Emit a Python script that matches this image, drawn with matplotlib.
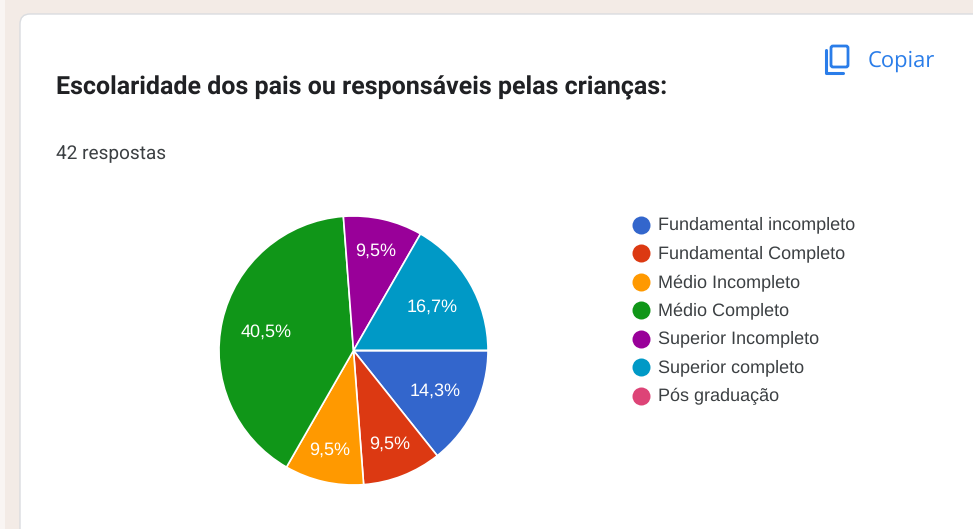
import matplotlib
matplotlib.use("Agg")
import matplotlib.pyplot as plt
from matplotlib.patches import FancyBboxPatch, Rectangle

W, H = 973, 529
plt.rcParams['font.family'] = ['Roboto', 'DejaVu Sans']
plt.rcParams['text.hinting'] = 'no_hinting'
plt.rcParams['text.hinting_factor'] = 1

title = "Escolaridade dos pais ou responsáveis pelas crianças:"
subtitle = "42 respostas"
copy_label = "Copiar"
categories = ["Fundamental incompleto", "Fundamental Completo", "Médio Incompleto",
              "Médio Completo", "Superior Incompleto", "Superior completo", "Pós graduação"]
values = [14.3, 9.5, 9.5, 40.5, 9.5, 16.7, 0.0]
labels = ["14,3%", "9,5%", "9,5%", "40,5%", "9,5%", "16,7%"]
colors = ["#3366cc", "#dc3912", "#ff9900", "#109618", "#990099", "#0099c6", "#dd4477"]

fig = plt.figure(figsize=(W/100, H/100), dpi=100, facecolor="#f3ebe6")
bg = fig.add_axes([0, 0, 1, 1], zorder=0)
bg.set_xlim(0, W); bg.set_ylim(H, 0); bg.axis("off")
bg.add_patch(Rectangle((0, 0), 4.5, H, fc="#f9f5f3", ec="none"))
bg.add_patch(FancyBboxPatch((20, 14), W+30, H+40, boxstyle="round,pad=0,rounding_size=10",
                            fc="white", ec="#dadce0", lw=1))
bg.text(56, 88, title, fontsize=17.65, fontweight="bold", color="#202124", va="center")
bg.text(56, 153.5, subtitle, fontsize=13.4, color="#3c4043", va="center")
bg.text(868, 61, copy_label, fontsize=16.2, color="#2a7de9", va="center", family="Open Sans")

# copy icon
blue = "#2a7de9"
bg.add_patch(FancyBboxPatch((831, 46), 17, 21, boxstyle="round,pad=0,rounding_size=2",
                            fc="white", ec=blue, lw=2))
bg.plot([826, 826, 843], [50, 73, 73], color=blue, lw=2.2, solid_capstyle="round",
        solid_joinstyle="round")

R = 134.5; cx = 353.5; cy = 350.5
ax = fig.add_axes([(cx-R)/W, 1-(cy+R)/H, 2*R/W, 2*R/H], zorder=1)
ax.pie(values, colors=colors, startangle=0, counterclock=False, radius=1,
       wedgeprops=dict(edgecolor="white", linewidth=1.2))
ax.set_xlim(-1, 1); ax.set_ylim(-1, 1)

top = fig.add_axes([0, 0, 1, 1], facecolor="none", zorder=2)
top.set_xlim(0, W); top.set_ylim(H, 0); top.axis("off")
pos = [(435, 391), (389.5, 444), (330, 450), (266, 332), (376, 251), (432, 307)]
for p, l in zip(pos, labels):
    top.text(p[0], p[1], l, color="white", fontsize=12.9, ha="center", va="center",
             family="Liberation Sans")

ys = [224.5, 253, 281.7, 310.3, 338.5, 367.2, 395.7]
for y, c, n in zip(ys, colors, categories):
    top.scatter([641], [y], s=168, color=c, linewidths=0)
    top.text(658, y + 0.5, n, fontsize=12.9, color="#3c4043", va="center", family="Liberation Sans")

fig.savefig("out.png", dpi=100, facecolor=fig.get_facecolor())
